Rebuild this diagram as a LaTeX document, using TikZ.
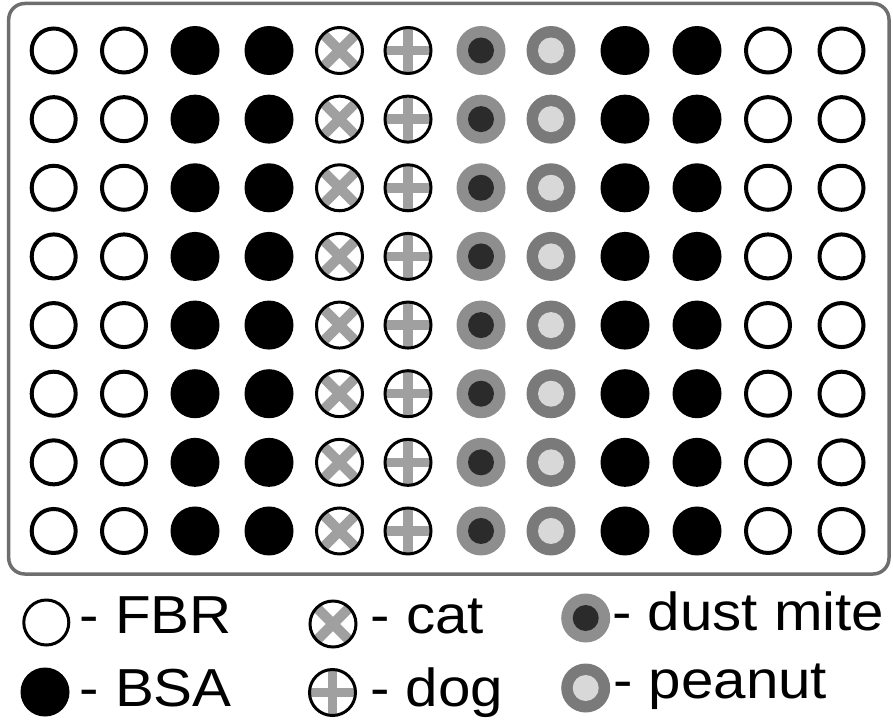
\documentclass[tikz,border=0pt]{standalone}
\usepackage{fontspec}
\setmainfont{Liberation Sans}
\usepackage{graphicx}

\definecolor{platecol}{HTML}{6E6E6E}
\definecolor{crossgray}{HTML}{A0A0A0}
\definecolor{mitering}{HTML}{8E8E8E}
\definecolor{mitecore}{HTML}{2B2B2B}
\definecolor{peanutring}{HTML}{7A7A7A}
\definecolor{peanutcore}{HTML}{D8D8D8}

\newcommand{\legword}[1]{\scalebox{1.09}[1]{#1}}

\tikzset{
  well/.style={circle, inner sep=0pt, outer sep=0pt},
  fbr/.style={well, draw=black, line width=4pt, fill=white, minimum size=44pt},
  bsa/.style={well, fill=black, minimum size=49pt},
  cat/.style={well, draw=black, line width=3pt, fill=white, minimum size=46pt,
    path picture={\draw[crossgray, line width=10pt,
      shift={(path picture bounding box.center)}]
      (-17,-17) -- (17,17) (-17,17) -- (17,-17);}},
  dog/.style={well, draw=black, line width=3pt, fill=white, minimum size=46pt,
    path picture={\draw[crossgray, line width=9.5pt,
      shift={(path picture bounding box.center)}]
      (-25,0) -- (25,0) (0,-25) -- (0,25);}},
  mite/.style={well, fill=mitering, minimum size=49pt,
    path picture={\fill[mitecore] (path picture bounding box.center) circle[radius=13pt];}},
  peanut/.style={well, fill=peanutring, minimum size=49pt,
    path picture={\fill[peanutcore] (path picture bounding box.center) circle[radius=13pt];}},
  legwell/.style={line width=3pt},
  legtext/.style={anchor=base west, inner sep=0pt, outer sep=0pt,
    font=\fontsize{53.5}{60}\selectfont},
  plate/.style={draw=platecol, line width=3.5pt, rounded corners=16pt}
}

\begin{document}
\begin{tikzpicture}[x=1pt, y=-1pt]
  \useasboundingbox (0,0) rectangle (893,725);

  % plate outline
  \draw[plate] (8.7,3.5) rectangle (889,574);

  % wells: column number / centre x / coating
  \foreach \c/\x/\kind in {1/53.7/fbr, 2/124/fbr, 3/195/bsa, 4/269/bsa,
      5/339.5/cat, 6/408/dog, 7/481/mite, 8/551/peanut,
      9/625/bsa, 10/697/bsa, 11/768/fbr, 12/841.5/fbr}{
    \foreach \r in {1,...,8}{
      \node[style=\kind] (w-\r-\c) at (\x, {50.5+68.64*(\r-1)}) {};
    }
  }

  % legend symbols
  \node[fbr, legwell, minimum size=45pt] (k-fbr) at (46.3,622.5) {};
  \node[bsa] (k-bsa) at (45,692) {};
  \node[cat] (k-cat) at (333,624) {};
  \node[dog] (k-dog) at (332.5,692.5) {};
  \node[mite] (k-mite) at (585.7,618) {};
  \node[peanut] (k-peanut) at (585.7,688) {};

  % legend labels
  \node[legtext] (l-fbr) at (79.5,633.3) {\legword{- FBR}};
  \node[legtext] (l-bsa) at (79.5,706.7) {\legword{- BSA}};
  \node[legtext] (l-cat) at (370.5,633) {\legword{- cat}};
  \node[legtext] (l-dog) at (370.3,706.7) {\legword{- dog}};
  \node[legtext] (l-mite) at (612.2,630) {\legword{- dust mite}};
  \node[legtext] (l-peanut) at (613.2,698.3) {\legword{- peanut}};
\end{tikzpicture}
\end{document}
